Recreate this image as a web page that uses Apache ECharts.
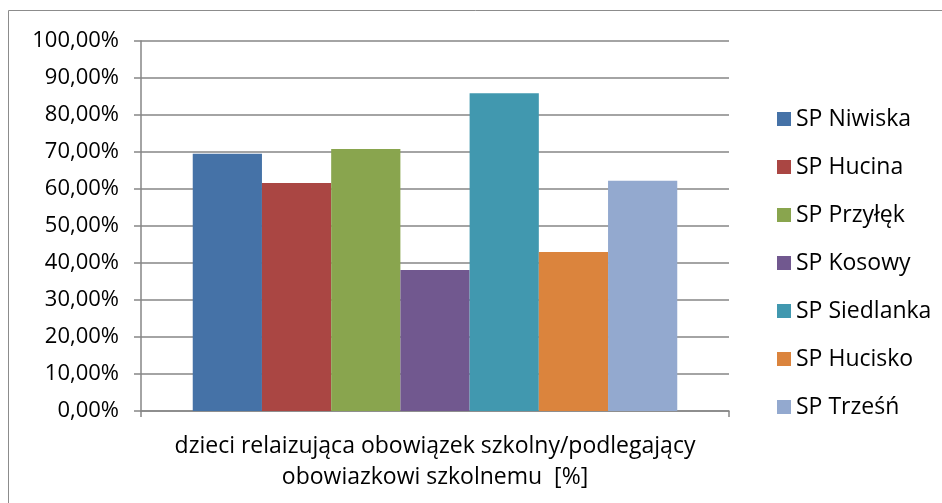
<!DOCTYPE html>
<html>
<head>
<meta charset="utf-8">
<script src="https://cdn.jsdelivr.net/npm/echarts@6/dist/echarts.min.js"></script>
<style>
  html, body { margin: 0; padding: 0; background: #fff; }
  #chart { width: 942px; height: 503px; }
</style>
</head>
<body>
<div id="chart"></div>
<script>
// dane
const category = ["dzieci relaizująca obowiązek szkolny/podlegający\nobowiazkowi szkolnemu  [%]"];
const schools = ["SP Niwiska", "SP Hucina", "SP Przyłęk", "SP Kosowy", "SP Siedlanka", "SP Hucisko", "SP Trześń"];
const values = [69.5, 61.6, 70.8, 38.1, 85.9, 43.0, 62.2];
const colors = ["#4572A7", "#AA4643", "#89A54E", "#71588F", "#4198AF", "#DB843D", "#93A9CF"];

const font = "'Open Sans', sans-serif";

const chart = echarts.init(document.getElementById("chart"));

chart.setOption({
  animation: false,
  color: colors,
  textStyle: { fontFamily: font },
  // ramka wykresu
  graphic: [
    {
      type: "rect",
      shape: { x: 8.5, y: 10.5, width: 1000, height: 1000 },
      style: { fill: "none", stroke: "#8c8c8c", lineWidth: 1 },
      silent: true,
    },
  ],
  grid: { left: 141, right: 213, top: 41, bottom: 92 },
  legend: {
    orient: "vertical",
    left: 772,
    top: 102,
    itemWidth: 14,
    itemHeight: 14,
    itemGap: 24,
    icon: "rect",
    textStyle: { fontSize: 23, lineHeight: 24, color: "#000", fontFamily: font },
    data: schools,
  },
  xAxis: {
    type: "category",
    data: category,
    axisLine: { show: true, lineStyle: { color: "#868686", width: 1.5 } },
    axisTick: { show: true, length: 6, lineStyle: { color: "#868686", width: 1.5 } },
    axisLabel: { fontSize: 23, color: "#000", lineHeight: 31, margin: 20, align: "center" },
  },
  yAxis: {
    type: "value",
    min: 0,
    max: 100,
    interval: 10,
    axisLine: { show: true, lineStyle: { color: "#868686", width: 1.5 } },
    axisTick: { show: true, length: 7, lineStyle: { color: "#868686", width: 1.5 } },
    splitLine: { show: true, lineStyle: { color: "#868686", width: 1.5 } },
    axisLabel: {
      fontSize: 22,
      color: "#000",
      margin: 22,
      formatter: (v) => v.toFixed(2).replace(".", ",") + "%",
    },
  },
  series: schools.map((name, i) => ({
    name: name,
    type: "bar",
    data: [values[i]],
    barGap: "0%",
    barCategoryGap: "17.6%",
  })),
});
</script>
</body>
</html>
